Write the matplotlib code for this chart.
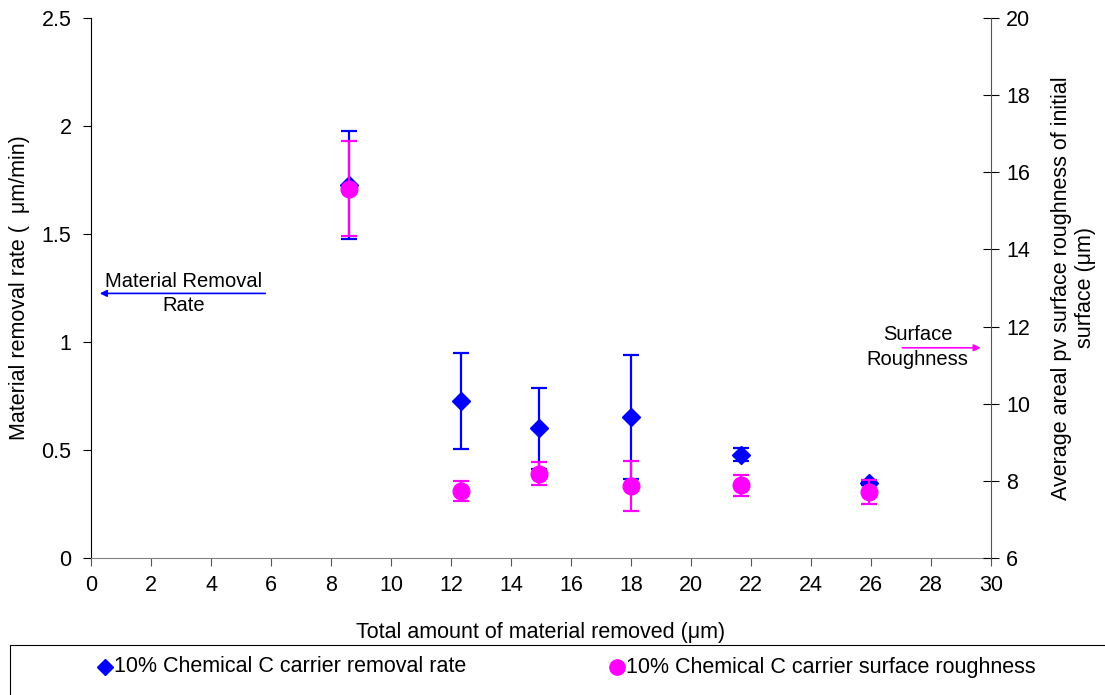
import matplotlib
matplotlib.use("Agg")
import matplotlib.pyplot as plt
from matplotlib.patches import Rectangle
from matplotlib.lines import Line2D

plt.rcParams['font.family'] = ['Liberation Sans', 'DejaVu Sans']
plt.rcParams['font.size'] = 15

# total material removed (um)
removed = [8.6, 12.33, 14.93, 18.0, 21.67, 25.93]
# removal rate (um/min) and its error
rate = [1.727, 0.727, 0.600, 0.653, 0.477, 0.347]
rate_err = [0.25, 0.222, 0.187, 0.285, 0.03, 0.01]
# areal pv surface roughness (um) and its error
rough = [15.57, 7.74, 8.18, 7.87, 7.89, 7.71]
rough_err = [1.23, 0.26, 0.30, 0.65, 0.27, 0.30]

blue = '#0000ff'
pink = '#ff00ff'
fs = 15.5

fig = plt.figure(figsize=(11.05, 6.95), dpi=100)
ax = fig.add_axes([91 / 1105, 137 / 695, 900 / 1105, 540 / 695])
ax2 = ax.twinx()

ax.errorbar(removed, rate, yerr=rate_err, fmt='D', color=blue, ms=9,
            ecolor=blue, elinewidth=1.6, capsize=6, capthick=1.6, zorder=3)
ax2.errorbar(removed, rough, yerr=rough_err, fmt='o', color=pink, ms=12,
             ecolor=pink, elinewidth=1.6, capsize=6, capthick=1.6, zorder=3)

ax.set_xlim(0, 30)
ax.set_ylim(0, 2.5)
ax2.set_ylim(6, 20)
ax.set_xticks(range(0, 31, 2))
ax.set_yticks([0, 0.5, 1, 1.5, 2, 2.5])
ax.set_yticklabels(['0', '0.5', '1', '1.5', '2', '2.5'])
ax2.set_yticks(range(6, 21, 2))

for a in (ax, ax2):
    a.spines['top'].set_visible(False)
    a.spines['left'].set_color('black')
    a.spines['right'].set_color('#555555')
    a.spines['bottom'].set_color('#808080')
ax.spines['right'].set_visible(False)
ax2.spines['left'].set_visible(False)
ax2.spines['bottom'].set_visible(False)

ax.tick_params(axis='x', direction='out', length=6, color='#555555', labelsize=fs, pad=6)
ax.tick_params(axis='y', direction='out', length=6, color='black', labelsize=fs, pad=8)
ax2.tick_params(axis='y', direction='inout', length=12, color='black', labelsize=fs, pad=5)

ax.set_xlabel('Total amount of material removed (\u03bcm)', fontsize=fs, labelpad=19)
ax.set_ylabel('Material removal rate (  \u03bcm/min)', fontsize=fs, labelpad=8)
ax2.set_ylabel('Average areal pv surface roughness of initial\nsurface (\u03bcm)',
               fontsize=fs, labelpad=15, linespacing=1.15)

# annotations
ax.annotate('', xy=(0.2, 1.225), xytext=(5.9, 1.225),
            arrowprops=dict(arrowstyle='-|>', color=blue, lw=1.2, mutation_scale=10))
ax.text(3.1, 1.28, 'Material Removal', ha='center', va='center', fontsize=14.5)
ax.text(3.1, 1.17, 'Rate', ha='center', va='center', fontsize=14.5)
ax2.annotate('', xy=(29.75, 11.45), xytext=(26.95, 11.45),
             arrowprops=dict(arrowstyle='-|>', color=pink, lw=1.2, mutation_scale=10))
ax2.text(27.55, 11.8, 'Surface', ha='center', va='center', fontsize=14.5)
ax2.text(27.55, 11.15, 'Roughness', ha='center', va='center', fontsize=14.5)

# legend box along the bottom
fig.patches.append(Rectangle((10 / 1105, -0.02), 1.0, 50 / 695 + 0.02, transform=fig.transFigure,
                             facecolor='white', edgecolor='black', lw=0.8))
fig.lines.append(Line2D([105 / 1105], [1 - 667 / 695], marker='D', color=blue, ms=8,
                        transform=fig.transFigure))
fig.text(114 / 1105, 1 - 667 / 695, '10% Chemical C carrier removal rate',
         va='center', fontsize=fs)
fig.lines.append(Line2D([617 / 1105], [1 - 667 / 695], marker='o', color=pink, ms=11,
                        transform=fig.transFigure))
fig.text(626 / 1105, 1 - 667 / 695, '10% Chemical C carrier surface roughness',
         va='center', fontsize=fs)

fig.savefig('out.png', dpi=100)
